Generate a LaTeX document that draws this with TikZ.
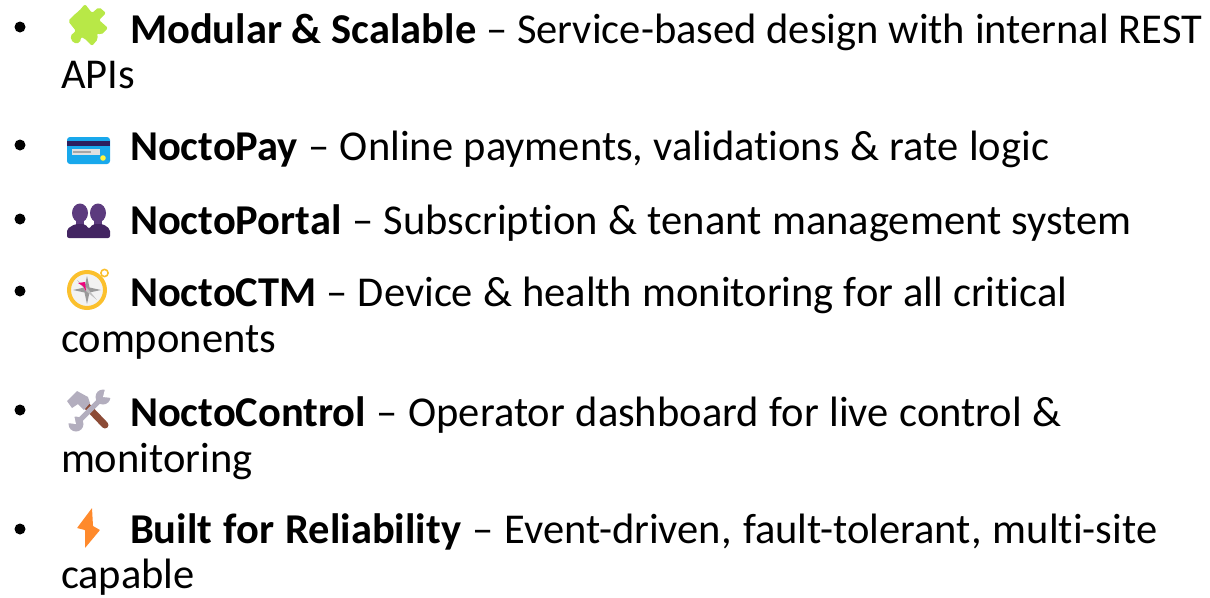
\documentclass[tikz,border=0pt]{standalone}
\usepackage{fontspec}
\setmainfont[Ligatures=NoCommon]{Carlito}
\definecolor{puz}{HTML}{B8E847}
\definecolor{cardb}{HTML}{18A8EC}
\definecolor{cardd}{HTML}{2C1F5E}
\definecolor{purl}{HTML}{5C3B7E}
\definecolor{purd}{HTML}{432562}
\definecolor{gold}{HTML}{FBC02D}
\definecolor{bolt}{HTML}{FF8A2C}
\definecolor{steel}{HTML}{B3AEBE}
\definecolor{wood}{HTML}{8C4B36}
\newcommand{\wsp}[1]{\spaceskip=\dimexpr 9.6pt+#1pt\relax}
\tikzset{
  txt/.style={anchor=base west,inner sep=0pt,outer sep=0pt,font=\fontsize{42.5}{42.5}\selectfont},
  dot/.style={circle,fill=black,inner sep=0pt,minimum size=11pt}
}
\begin{document}
\begin{tikzpicture}[x=1pt,y=-1pt]
\useasboundingbox (0,0) rectangle (1210,597);
% bullets
\foreach \n/\yy in {a/27,b/145,c/219,d/291,e/410,f/529}
  \node[dot] (b\n) at (20,\yy) {};
% text
\node[txt] (t1) at (130,43) {\wsp{.2}\textbf{Modular \& Scalable} -- Service-based design with internal REST};
\node[txt] (t1b) at (61,88) {APIs};
\node[txt] (t2) at (130,160) {\wsp{.85}\textbf{NoctoPay} -- Online payments, validations \& rate logic};
\node[txt] (t3) at (130,234) {\wsp{1}\textbf{NoctoPortal} -- Subscription \& tenant management system};
\node[txt] (t4) at (130,306) {\wsp{.45}\textbf{NoctoCTM} -- Device \& health monitoring for all critical};
\node[txt] (t4b) at (61,352) {components};
\node[txt] (t5) at (130,426) {\wsp{1}\textbf{NoctoControl} -- Operator dashboard for live control \&};
\node[txt] (t5b) at (61,472) {monitoring};
\node[txt] (t6) at (130,543) {\wsp{1.6}\textbf{Built for Reliability} -- Event-driven, fault-tolerant, multi-site};
\node[txt] (t6b) at (61,588) {capable};
% puzzle
\fill[puz,rounded corners=2pt] (79,11) -- (85,4) -- (92,13) -- (99,7) -- (106,13) -- (99,20) -- (108,28) -- (101,35) -- (97,33) -- (98,39) -- (92,46) -- (84,38) -- (81,37) -- (80,43) -- (73,43) -- (70,36) -- (76,31) -- (68,21) -- (75,14) -- cycle;
% card
\fill[cardb,rounded corners=3pt] (67,137) rectangle (110,164);
\fill[cardd] (67,141) rectangle (110,146);
\fill[black!12] (72,149) rectangle (100,155);
\fill[black!35] (73,151) rectangle (91,153);
\fill[yellow!75!white] (103,158) circle (2.8);
% people
\foreach \cx in {80,98}{
  \fill[purl] (\cx,213) ellipse (8 and 9.5);
  \fill[purl] (\cx-4,218) rectangle (\cx+4,228);
}
\fill[purd,rounded corners=2pt] (67,238) -- (67,229) -- (75,224) -- (85,224) -- (89,229) -- (93,224) -- (103,224) -- (110,229) -- (110,238) -- cycle;
% compass
\draw[gold,line width=1.6pt] (104.5,273) circle (3.6);
\fill[black!5] (87,290) circle (17);
\draw[gold,line width=4pt] (87,290) circle (18);
\fill[black!40] (87,276) -- (89.5,287.5) -- (101,290) -- (89.5,292.5) -- (87,304) -- (84.5,292.5) -- (73,290) -- (84.5,287.5) -- cycle;
\fill[black!25] (77,280) -- (88,289) -- (97,300) -- (86,291) -- cycle;
\fill[magenta!85!red] (78,283) -- (85,282) -- (86,291) -- (83,286) -- cycle;
% tools
\draw[wood,line width=7pt,line cap=round] (83,402) -- (105,425);
\fill[steel] (67,401) -- (77,391) -- (88,397) -- (90,403) -- (84,410) -- (78,404) -- (72,408) -- cycle;
\draw[steel,line width=5pt] (76,424) -- (102,398);
\fill[steel] (76,424) circle (7.5) (103,397) circle (7.5);
\fill[white] (67,423) -- (76,424) -- (74,415) -- (67,413) -- cycle;
\fill[white] (112,398) -- (103,397) -- (105,389) -- (112,389) -- cycle;
% bolt
\fill[bolt,rounded corners=.5pt] (92,508) -- (77,528) -- (85,530) -- (85,548) -- (100,530) -- (93,526) -- cycle;
\end{tikzpicture}
\end{document}
